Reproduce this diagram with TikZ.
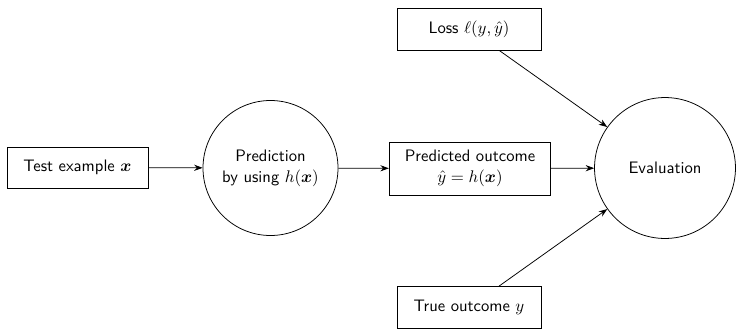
\documentclass[tikz,border=0pt]{standalone}
\usepackage{amsmath}
\usetikzlibrary{arrows.meta}
\begin{document}
\begin{tikzpicture}[x=0.65pt,y=-0.65pt,
  font=\sffamily\fontsize{10.8pt}{13.5pt}\selectfont,
  box/.style={draw,rectangle,inner sep=0pt,line width=0.5pt,align=center},
  circ/.style={draw,circle,inner sep=0pt,line width=0.5pt,align=center},
  conn/.style={-{Stealth[length=5.5pt,width=4pt]},line width=0.5pt}]
\useasboundingbox (0,0) rectangle (736,329);
\node[box,minimum width=91.6pt,minimum height=26.7pt] (test) at (77.5,167.5) {Test example $\boldsymbol{x}$};
\node[circ,minimum size=87.75pt] (pred) at (270.5,168) {Prediction\\by using $h(\boldsymbol{x})$};
\node[box,minimum width=105pt,minimum height=34.5pt] (out) at (470,168.5) {Predicted outcome\\$\hat{y}=h(\boldsymbol{x})$};
\node[circ,minimum size=91.6pt] (eval) at (665,168) {Evaluation};
\node[box,minimum width=93.6pt,minimum height=27.3pt] (loss) at (469,29) {Loss $\ell(y,\hat{y})$};
\node[box,minimum width=93.6pt,minimum height=27.3pt] (true) at (469,307.5) {True outcome $y$};
\draw[conn] (test) -- (pred);
\draw[conn] (pred) -- (out);
\draw[conn] (out) -- (eval);
\draw[conn] (loss) -- (eval);
\draw[conn] (true) -- (eval);
\end{tikzpicture}
\end{document}
